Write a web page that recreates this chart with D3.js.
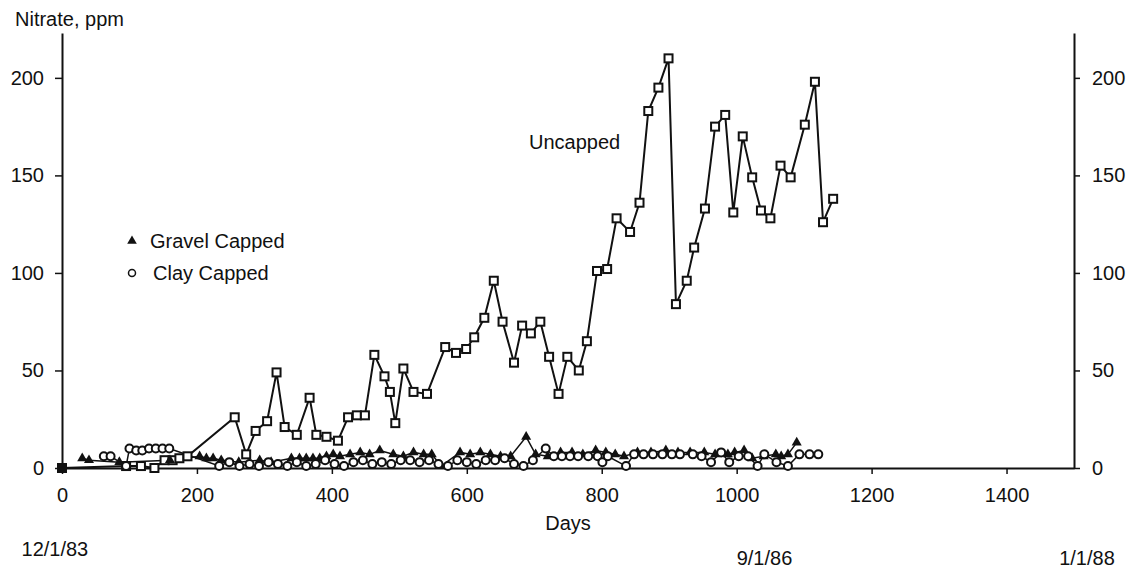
<!DOCTYPE html>
<html>
<head>
<meta charset="utf-8">
<script src="https://cdn.jsdelivr.net/npm/d3@7"></script>
<style>
  body { margin: 0; background: #fff; }
  text { font-family: "Liberation Sans", Arial, sans-serif; fill: #111; }
</style>
</head>
<body>
<div id="chart"></div>
<script>
// Nitrate in leachate, three test cells
const uncappedDays = [0, 95, 117, 137, 152, 164, 174, 186, 256, 273, 287, 304, 318, 330, 348, 367, 377, 392, 409, 424, 437, 449,
  463, 478, 486, 494, 506, 521, 541, 568, 584, 599, 611, 626, 640, 653, 670, 682, 695, 709, 722, 736, 749, 766, 778,
  793, 808, 822, 842, 856, 869, 884, 899, 910, 926, 937, 953, 968, 983, 995, 1009, 1023, 1036, 1050, 1065, 1080,
  1101, 1116, 1128, 1143];
const uncappedPpm = [0, 1, 1, 0, 4, 4, 5, 6, 26, 7, 19, 24, 49, 21, 17, 36, 17, 16, 14, 26, 27, 27,
  58, 47, 39, 23, 51, 39, 38, 62, 59, 61, 67, 77, 96, 75, 54, 73, 69, 75, 57, 38, 57, 50, 65,
  101, 102, 128, 121, 136, 183, 195, 210, 84, 96, 113, 133, 175, 181, 131, 170, 149, 132, 128, 155, 149,
  176, 198, 126, 138];

const gravelDays = [30, 40, 85, 160, 204, 214, 224, 236, 262, 293, 310, 340, 352, 362, 372, 382, 392, 402, 412, 427, 442,
  456, 471, 491, 506, 521, 536, 548, 562, 590, 605, 620, 635, 650, 665, 688, 702, 720, 739, 756, 772, 791, 806,
  820, 833, 853, 873, 895, 913, 931, 952, 968, 987, 997, 1011, 1023, 1040, 1058, 1066, 1076, 1089];
const gravelPpm = [5, 4, 3, 4, 6, 5, 5, 4, 3, 4, 3, 5, 5, 5, 5, 5, 6, 7, 6, 7, 8,
  7, 9, 7, 6, 8, 7, 7, 1, 8, 7, 8, 7, 6, 6, 16, 7, 6, 8, 8, 7, 9, 8,
  7, 6, 8, 8, 9, 8, 8, 8, 7, 7, 8, 9, 5, 6, 7, 6, 7, 13];

const clayDays = [62, 72, 95, 100, 110, 119, 129, 139, 149, 159, 233, 248, 263, 278, 292, 306, 320, 334, 348, 362, 376,
  390, 404, 418, 432, 446, 460, 474, 488, 502, 516, 530, 544, 558, 572, 586, 600, 614, 628, 642, 656, 670, 684,
  698, 717, 729, 741, 753, 765, 780, 794, 801, 809, 836, 848, 862, 876, 890, 904, 916, 935, 948, 962, 977, 989,
  1003, 1017, 1031, 1041, 1059, 1076, 1093, 1108, 1121];
const clayPpm = [6, 6, 1, 10, 9, 9, 10, 10, 10, 10, 1, 3, 1, 2, 1, 3, 2, 1, 3, 1, 2,
  4, 2, 1, 3, 4, 2, 3, 2, 4, 4, 3, 4, 2, 1, 4, 3, 2, 4, 4, 5, 2, 1,
  4, 10, 6, 6, 6, 6, 6, 6, 3, 6, 1, 7, 7, 7, 7, 7, 7, 7, 6, 3, 8, 3,
  6, 6, 1, 7, 3, 1, 7, 7, 7];

const xTicks = [0, 200, 400, 600, 800, 1000, 1200, 1400];
const yTicks = [0, 50, 100, 150, 200];
const dateLabels = ["12/1/83", "9/1/86", "1/1/88"];
const dateDays = [-60, 1000, 1478];
const legendLabels = ["Gravel Capped", "Clay Capped"];

function drawChart() {
  const width = 1134;
  const height = 571;

  const svg = d3.select("#chart")
                .append("svg")
                .attr("width", width)
                .attr("height", height);

  const x = d3.scaleLinear().domain([0, 1500]).range([62, 1074]);
  const y = d3.scaleLinear().domain([0, 223]).range([468, 33]);

  const fontSize = 20;
  const fmt = d3.format("d");

  // axes
  const xAxis = svg.append("g")
     .attr("transform", `translate(0, ${y(0)})`)
     .call(d3.axisBottom(x).tickValues(xTicks).tickFormat(fmt).tickSize(6).tickSizeOuter(0).tickPadding(14));

  const yLeft = svg.append("g")
     .attr("transform", `translate(${x(0)}, 0)`)
     .call(d3.axisLeft(y).tickValues(yTicks).tickFormat(fmt).tickSize(7).tickSizeOuter(0).tickPadding(11));

  const yRight = svg.append("g")
     .attr("transform", `translate(${x(1500)}, 0)`)
     .call(d3.axisRight(y).tickValues(yTicks).tickFormat(fmt).tickSize(6).tickSizeOuter(0).tickPadding(12));

  [xAxis, yLeft, yRight].forEach(g => {
    g.select(".domain").attr("stroke", "#111").attr("stroke-width", 2);
    g.selectAll(".tick line").attr("stroke", "#111").attr("stroke-width", 1.5);
    g.selectAll(".tick text")
     .attr("font-size", fontSize)
     .attr("font-family", "Liberation Sans, Arial, sans-serif")
     .attr("fill", "#111");
  });

  svg.append("text")
     .attr("x", 15).attr("y", 26)
     .attr("font-size", fontSize)
     .text("Nitrate, ppm");

  svg.append("text")
     .attr("x", (x(0) + x(1500)) / 2).attr("y", 530)
     .attr("text-anchor", "middle")
     .attr("font-size", fontSize)
     .text("Days");

  svg.append("g")
     .selectAll("text")
     .data(dateLabels)
     .enter()
     .append("text")
     .attr("x", (d, i) => x(dateDays[i]))
     .attr("y", (d, i) => i === 0 ? 556 : 565)
     .attr("font-size", fontSize)
     .text(d => d);

  const line = d3.line().x(d => x(d[0])).y(d => y(d[1]));

  const uncapped = uncappedDays.map((d, i) => [d, uncappedPpm[i]]);
  const gravel = gravelDays.map((d, i) => [d, gravelPpm[i]]);
  const clay = clayDays.map((d, i) => [d, clayPpm[i]]);

  // Uncapped
  svg.append("path")
     .datum(uncapped)
     .attr("d", line)
     .attr("fill", "none")
     .attr("stroke", "#111")
     .attr("stroke-width", 2);

  // Gravel capped
  svg.append("path")
     .datum(gravel)
     .attr("d", line)
     .attr("fill", "none")
     .attr("stroke", "#111")
     .attr("stroke-width", 1.5);

  // Clay capped
  svg.append("path")
     .datum(clay)
     .attr("d", line)
     .attr("fill", "none")
     .attr("stroke", "#111")
     .attr("stroke-width", 1.5);

  svg.append("g")
     .selectAll("rect")
     .data(uncapped)
     .enter()
     .append("rect")
     .attr("x", d => x(d[0]) - 4)
     .attr("y", d => y(d[1]) - 4)
     .attr("width", 8)
     .attr("height", 8)
     .attr("fill", (d, i) => i === 0 ? "#111" : "#fff")
     .attr("stroke", "#111")
     .attr("stroke-width", 2);

  const tri = d3.symbol().type(d3.symbolTriangle).size(44);

  svg.append("g")
     .selectAll("path")
     .data(gravel)
     .enter()
     .append("path")
     .attr("d", tri)
     .attr("transform", d => `translate(${x(d[0])}, ${y(d[1])})`)
     .attr("fill", "#111");

  svg.append("g")
     .selectAll("circle")
     .data(clay)
     .enter()
     .append("circle")
     .attr("cx", d => x(d[0]))
     .attr("cy", d => y(d[1]))
     .attr("r", 4)
     .attr("fill", "#fff")
     .attr("stroke", "#111")
     .attr("stroke-width", 2);

  // labels
  svg.append("text")
     .attr("x", 529).attr("y", 149)
     .attr("font-size", fontSize)
     .text("Uncapped");

  const legend = svg.append("g")
     .selectAll("g")
     .data(legendLabels)
     .enter()
     .append("g")
     .attr("transform", (d, i) => `translate(132, ${241 + i * 32})`);

  legend.filter((d, i) => i === 0)
     .append("path")
     .attr("d", d3.symbol().type(d3.symbolTriangle).size(40))
     .attr("fill", "#111");

  legend.filter((d, i) => i === 1)
     .append("circle")
     .attr("r", 3.5)
     .attr("fill", "#fff")
     .attr("stroke", "#111")
     .attr("stroke-width", 1.5);

  legend.append("text")
     .attr("x", (d, i) => i === 0 ? 18 : 21)
     .attr("y", 7)
     .attr("font-size", fontSize)
     .text(d => d);
}

drawChart();
</script>
</body>
</html>
